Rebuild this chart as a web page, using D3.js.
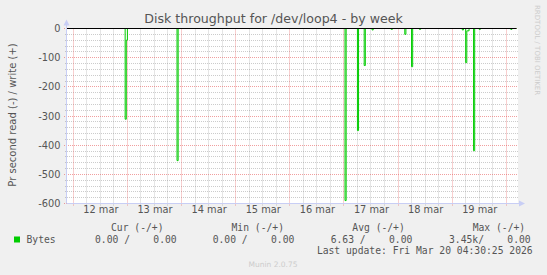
<!DOCTYPE html>
<html><head><meta charset="utf-8">
<script src="https://cdn.jsdelivr.net/npm/d3@7"></script>
<style>
html,body{margin:0;padding:0;background:#f0f0f0;}
svg{display:block;}
text{font-family:"DejaVu Sans",sans-serif;}
.mono{font-family:"DejaVu Sans Mono",monospace;}
</style></head>
<body>
<script>
// ---- data ----
const title = "Disk throughput for /dev/loop4 - by week";
const yLabel = "Pr second read (-) / write (+)";
const yTicks = [0, -100, -200, -300, -400, -500, -600];
const xTickDays = ["2026-03-12","2026-03-13","2026-03-14","2026-03-15","2026-03-16","2026-03-17","2026-03-18","2026-03-19"];
const xTickLabels = ["12 mar","13 mar","14 mar","15 mar","16 mar","17 mar","18 mar","19 mar"];
// read samples (30 min steps), all other samples are 0
const readTimes = ["2026-03-12T23:00","2026-03-12T23:30","2026-03-13T22:00","2026-03-17T00:30","2026-03-17T06:00",
  "2026-03-17T09:00","2026-03-17T12:30","2026-03-17T21:00","2026-03-18T03:00","2026-03-18T06:00","2026-03-18T09:30",
  "2026-03-19T04:30","2026-03-19T06:00","2026-03-19T06:30","2026-03-19T07:00","2026-03-19T09:30","2026-03-19T12:00","2026-03-20T02:00"];
const readValues = [-311,-40,-453,-590,-350,-127,-5,-3,-20,-131,-3,-5,-117,-8,-8,-419,-3,-3];
const writeValue = 0;
const legendName = "Bytes";
const statHeads = ["Cur (-/+)","Min (-/+)","Avg (-/+)","Max (-/+)"];
const statVals = ["0.00 /    0.00","0.00 /    0.00","6.63 /    0.00","3.45k/    0.00"];
const lastUpdate = "Last update: Fri Mar 20 04:30:25 2026";
const footer = "Munin 2.0.75";
const watermark = "RRDTOOL / TOBI OETIKER";

// ---- chart ----
const W=547,H=275;
const L=67,R=518,T=28.5,B=203.5;
const green="#00cc00", txt="#555555";
const svg=d3.select("body").append("svg").attr("width",W).attr("height",H);
svg.append("rect").attr("width",W).attr("height",H).attr("fill","#f0f0f0");
svg.append("rect").attr("x",L).attr("y",T).attr("width",R-L).attr("height",B-T).attr("fill","#ffffff");

const pt=s=>new Date(s+"Z");
const x=d3.scaleUtc().domain([pt("2026-03-11T21:13"),pt("2026-03-20T05:12")]).range([L,R]);
const y=d3.scaleLinear().domain([-600,0]).range([B,T]);
const px=v=>Math.round(v-0.5)+0.5;

const grid=svg.append("g");
// minor horizontal
d3.range(-600,1,20).filter(v=>v%100!==0).forEach(v=>{
  grid.append("line").attr("x1",L-2).attr("x2",R).attr("y1",px(y(v))).attr("y2",px(y(v)))
   .attr("stroke","rgba(128,128,128,0.4)").attr("stroke-dasharray","1,1");
});
// minor vertical (6h)
d3.utcHour.every(6).range(x.domain()[0],x.domain()[1]).filter(d=>d.getUTCHours()!==0).forEach(d=>{
  grid.append("line").attr("x1",px(x(d))).attr("x2",px(x(d))).attr("y1",T).attr("y2",B+2)
   .attr("stroke","rgba(128,128,128,0.4)").attr("stroke-dasharray","1,1");
});
// major horizontal
yTicks.forEach(v=>{
  grid.append("line").attr("x1",L-3).attr("x2",R).attr("y1",px(y(v))).attr("y2",px(y(v)))
   .attr("stroke","rgba(230,80,80,0.55)").attr("stroke-dasharray","1,1");
});
// major vertical (midnight)
d3.utcDay.range(x.domain()[0],x.domain()[1]).forEach(d=>{
  grid.append("line").attr("x1",px(x(d))).attr("x2",px(x(d))).attr("y1",T).attr("y2",B+3)
   .attr("stroke","rgba(230,80,80,0.55)").attr("stroke-dasharray","1,1");
});

// axes lines with arrows
const axc="#c8cef5";
svg.append("line").attr("x1",L-0.5).attr("x2",L-0.5).attr("y1",B).attr("y2",T-4).attr("stroke",axc);
svg.append("path").attr("d",`M${L-3.5},${T-3} L${L-0.5},${T-9} L${L+2.5},${T-3} Z`).attr("fill",axc);
svg.append("line").attr("x1",L).attr("x2",R+3).attr("y1",B).attr("y2",B).attr("stroke",axc);
svg.append("path").attr("d",`M${R+1},${B-3} L${R+7},${B} L${R+1},${B+3} Z`).attr("fill",axc);

// series
const pts=[[x.domain()[0],0]];
readTimes.forEach((t,i)=>{
  const d=pt(t);
  pts.push([d,readValues[i]]);
  const nx=new Date(+d+30*60000);
  if(i===readTimes.length-1 || +pt(readTimes[i+1])!==+nx) pts.push([nx,0]);
});
pts.push([pt("2026-03-20T04:30"),0]);
const line=d3.line().x(d=>x(d[0])).y(d=>y(d[1])).curve(d3.curveStepAfter);
svg.append("path").datum(pts).attr("d",line).attr("fill","none").attr("stroke",green).attr("stroke-width",1);
// write series + zero line
svg.append("line").attr("x1",L).attr("x2",x(pt("2026-03-20T04:30"))).attr("y1",px(y(writeValue))).attr("y2",px(y(writeValue)))
  .attr("stroke","#000").attr("stroke-width",1);

// y axis labels
const ya=svg.append("g").attr("transform",`translate(${L-6.5},0)`)
  .call(d3.axisLeft(y).tickValues(yTicks).tickSize(0).tickPadding(0).tickFormat(d=>d));
ya.select(".domain").remove();
ya.selectAll("text").attr("fill",txt).style("font-size","9.8px").style("font-family","DejaVu Sans");

// x axis labels (noon)
const xa=svg.append("g").attr("transform",`translate(0,${B+3})`)
  .call(d3.axisBottom(x).tickValues(xTickDays.map(s=>pt(s+"T12:00"))).tickSize(0).tickPadding(0)
    .tickFormat((d,i)=>xTickLabels[i]));
xa.select(".domain").remove();
xa.selectAll("text").attr("fill",txt).style("font-size","9.8px").style("font-family","DejaVu Sans").attr("dy","0.71em");

// title
svg.append("text").attr("x",273.5).attr("y",23.3).attr("text-anchor","middle").attr("fill",txt)
  .style("font-size","12.6px").text(title);
// y label
svg.append("text").attr("transform","translate(15.5,115) rotate(-90)").attr("text-anchor","middle")
  .attr("fill",txt).style("font-size","10px").text(yLabel);
// watermark
svg.append("text").attr("transform","translate(534.5,5) rotate(90)").attr("text-anchor","start")
  .attr("fill","#cccccc").style("font-size","7px").text(watermark);

// legend
svg.append("rect").attr("x",14).attr("y",236.5).attr("width",6).attr("height",6).attr("fill",green);
svg.append("text").attr("class","mono").attr("x",26.5).attr("y",242.7).attr("fill",txt).style("font-size","9.7px").text(legendName);
const headX=[111,231.5,352.3,472.7];
const valX=[95,212.7,330.7,449];
statHeads.forEach((h,i)=>{
  svg.append("text").attr("class","mono").attr("x",headX[i]).attr("y",230.7).attr("fill",txt)
    .style("font-size","9.7px").style("white-space","pre").attr("xml:space","preserve").text(h);
  svg.append("text").attr("class","mono").attr("x",valX[i]).attr("y",242.7).attr("fill",txt)
    .style("font-size","9.7px").style("white-space","pre").attr("xml:space","preserve").text(statVals[i]);
});
svg.append("text").attr("class","mono").attr("x",532.7).attr("y",254).attr("text-anchor","end").attr("fill",txt)
  .style("font-size","9.7px").text(lastUpdate);
svg.append("text").attr("x",273).attr("y",267).attr("text-anchor","middle").attr("fill","#cccccc")
  .style("font-size","7.5px").text(footer);
</script>
</body></html>
